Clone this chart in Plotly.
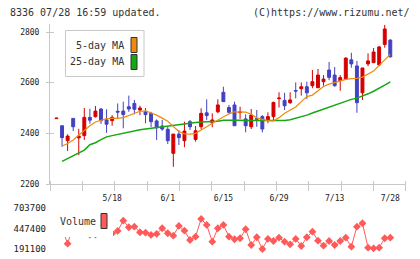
import plotly.graph_objects as go

W, H = 420, 259

dates = ["4/28", "4/30", "5/1", "5/7", "5/8", "5/11", "5/12", "5/13", "5/14", "5/15",
         "5/18", "5/19", "5/20", "5/21", "5/22", "5/25", "5/26", "5/27", "5/28", "5/29",
         "6/1", "6/2", "6/3", "6/4", "6/5", "6/8", "6/9", "6/10", "6/11", "6/12",
         "6/15", "6/16", "6/17", "6/18", "6/19", "6/22", "6/23", "6/24", "6/25", "6/26",
         "6/29", "6/30", "7/1", "7/2", "7/3", "7/6", "7/7", "7/8", "7/9", "7/10",
         "7/13", "7/14", "7/15", "7/16", "7/17", "7/21", "7/22", "7/23", "7/24", "7/27",
         "7/28"]

open_ = [2458, 2430, 2371, 2459, 2382, 2391, 2463, 2466, 2496, 2453,
         2450, 2487, 2488, 2505, 2518, 2492, 2485, 2479, 2449, 2429,
         2416, 2321, 2397, 2371, 2446, 2376, 2426, 2481, 2442, 2485,
         2562, 2502, 2512, 2482, 2457, 2426, 2458, 2466, 2453, 2466,
         2537, 2530, 2521, 2569, 2576, 2584, 2588, 2580, 2604, 2650,
         2630, 2608, 2614, 2690, 2666, 2560, 2674, 2679, 2670, 2751,
         2768]
high = [2460, 2430, 2396, 2459, 2418, 2500, 2497, 2508, 2500, 2495,
        2472, 2518, 2525, 2549, 2532, 2509, 2500, 2485, 2455, 2453,
        2426, 2397, 2413, 2446, 2453, 2429, 2499, 2534, 2479, 2534,
        2584, 2512, 2525, 2505, 2475, 2496, 2492, 2472, 2483, 2525,
        2562, 2560, 2562, 2601, 2601, 2604, 2650, 2654, 2630, 2682,
        2662, 2630, 2700, 2718, 2686, 2658, 2716, 2737, 2745, 2828,
        2772]
low = [2458, 2347, 2330, 2409, 2314, 2374, 2438, 2462, 2437, 2402,
       2430, 2460, 2420, 2485, 2475, 2472, 2440, 2425, 2374, 2410,
       2358, 2268, 2354, 2345, 2413, 2367, 2416, 2453, 2424, 2479,
       2525, 2478, 2430, 2457, 2404, 2417, 2426, 2404, 2440, 2453,
       2502, 2492, 2516, 2538, 2549, 2535, 2578, 2580, 2588, 2610,
       2584, 2568, 2612, 2659, 2481, 2532, 2665, 2679, 2665, 2738,
       2699]
close = [2460, 2383, 2389, 2426, 2389, 2463, 2452, 2488, 2450, 2436,
         2463, 2484, 2474, 2496, 2495, 2500, 2474, 2446, 2422, 2417,
         2371, 2397, 2383, 2409, 2426, 2410, 2479, 2470, 2453, 2512,
         2525, 2483, 2430, 2484, 2430, 2472, 2456, 2417, 2466, 2522,
         2539, 2509, 2532, 2567, 2584, 2560, 2604, 2630, 2614, 2621,
         2588, 2620, 2697, 2674, 2521, 2658, 2686, 2721, 2741, 2812,
         2702]

ma5 = [None, 2350, 2360, 2374, 2393, 2413, 2430, 2445, 2453, 2458,
       2459, 2459, 2462, 2470, 2480, 2487, 2489, 2482, 2472, 2460,
       2448, 2427, 2407, 2398, 2397, 2400, 2412, 2426, 2440, 2452,
       2463, 2477, 2485, 2484, 2484, 2475, 2461, 2455, 2450, 2449,
       2462, 2479, 2490, 2504, 2525, 2545, 2551, 2567, 2585, 2594,
       2600, 2608, 2613, 2616, 2617, 2622, 2634, 2646, 2668, 2690,
       2712]
ma25 = [None, 2289, 2300, 2309, 2320, 2334, 2355, 2363, 2375, 2386,
        2391, 2396, 2401, 2405, 2410, 2414, 2417, 2420, 2422, 2426,
        2430, 2433, 2436, 2439, 2441, 2443, 2445, 2446, 2446, 2448,
        2452, 2453, 2453, 2452, 2451, 2451, 2451, 2451, 2451, 2451,
        2451, 2451, 2454, 2459, 2464, 2472, 2480, 2488, 2497, 2505,
        2512, 2519, 2527, 2534, 2539, 2546, 2556, 2566, 2577, 2590,
        2603]

volume = [420000, 450000, 258000, 480000, 550000, 703700, 374000, 374000, 420000, 450000,
          386800, 418400, 548400, 465100, 472700, 401900, 396900, 367900, 380500, 452500,
          389300, 359000, 481500, 422200, 304700, 346400, 569900, 494100, 283300, 452500,
          494100, 346400, 313600, 326200, 439800, 241600, 338800, 191100, 317400, 292100,
          333800, 283300, 250400, 317400, 229000, 338800, 409500, 295900, 232800, 292100,
          241600, 292100, 333800, 220100, 472700, 515600, 207500, 200000, 207500, 326200,
          333800]

date_ticks = ["5/18", "6/1", "6/15", "6/29", "7/13", "7/28"]
price_ticks = [2200, 2400, 2600, 2800]
vol_ticks = [191100, 447400, 703700]
vol_tick_text = ["191100", "447400", "703700"]
grid_divisions = list(range(12))

RED = "#d40000"
BLUE = "#4242c2"
ORANGE = "#ef8a10"
GREEN = "#14a814"
VOLC = "#ff5a5a"
AXC = "#c8c8c8"
MONO = "DejaVu Sans Mono"


def px(x):
    return x / W


def py(y):
    return 1 - y / H


fig = go.Figure()
fig.add_trace(go.Scatter(x=dates, y=ma25, mode="lines", line=dict(color=GREEN, width=1.5),
                         xaxis="x", yaxis="y", hoverinfo="skip"))
fig.add_trace(go.Scatter(x=dates, y=ma5, mode="lines", line=dict(color=ORANGE, width=1.2),
                         xaxis="x", yaxis="y", hoverinfo="skip"))
fig.add_trace(go.Candlestick(
    x=dates, open=open_, high=high, low=low, close=close,
    increasing=dict(line=dict(color=RED, width=1), fillcolor=RED),
    decreasing=dict(line=dict(color=BLUE, width=1), fillcolor=BLUE),
    whiskerwidth=0, xaxis="x", yaxis="y"))
fig.add_trace(go.Scatter(x=dates, y=volume, mode="lines+markers",
                         line=dict(color=VOLC, width=1),
                         marker=dict(symbol="diamond", size=6, color=VOLC),
                         xaxis="x2", yaxis="y2", cliponaxis=False))
# empty traces so the tick-mark-only axes are created
fig.add_trace(go.Scatter(x=[], y=[], xaxis="x3", yaxis="y", hoverinfo="skip"))
fig.add_trace(go.Scatter(x=[], y=[], xaxis="x", yaxis="y3", hoverinfo="skip"))

xdom = [px(50), px(405.7)]
xr = [-1.168, 62.77]
ydom = [py(184), py(24)]
yr = [2200, 2831.6]

fig.update_layout(
    template="none",
    width=W, height=H, margin=dict(l=0, r=0, t=0, b=0, pad=0, autoexpand=False),
    paper_bgcolor="white", plot_bgcolor="white", showlegend=False,
    boxgap=0.25,
    xaxis=dict(domain=xdom, type="category", range=xr, anchor="y", automargin=False,
               tickmode="array", tickvals=date_ticks, ticktext=date_ticks,
               ticks="", showline=True, linecolor=AXC, linewidth=1,
               showgrid=False, zeroline=False, rangeslider=dict(visible=False),
               tickfont=dict(family=MONO, size=8, color="#222"), ticklabelstandoff=6),
    xaxis2=dict(domain=xdom, matches="x", anchor="y2", visible=False, automargin=False,
                rangeslider=dict(visible=False)),
    xaxis3=dict(domain=xdom, overlaying="x", anchor="free", position=py(179.5),
                range=[0, 11], automargin=False,
                tickmode="array", tickvals=grid_divisions, ticks="outside", ticklen=10, tickwidth=1,
                tickcolor=AXC, showticklabels=False, showline=False, showgrid=False,
                zeroline=False, rangeslider=dict(visible=False)),
    yaxis=dict(domain=ydom, range=yr, anchor="x", automargin=False,
               tickmode="array", tickvals=price_ticks, ticks="", showline=True,
               linecolor=AXC, linewidth=1, showgrid=False, zeroline=False,
               tickfont=dict(family=MONO, size=8, color="#222"), ticklabelstandoff=8),
    yaxis3=dict(domain=ydom, overlaying="y", range=yr, anchor="free", position=px(53.5),
                side="left", automargin=False,
                tickmode="array", tickvals=price_ticks, ticks="outside", ticklen=8, tickwidth=1,
                tickcolor=AXC, showticklabels=False, showline=False, showgrid=False,
                zeroline=False),
    yaxis2=dict(domain=[py(249), py(208.3)], range=[191100, 703700], anchor="x2",
                automargin=False,
                tickmode="array", tickvals=vol_ticks, ticktext=vol_tick_text,
                ticks="", showline=False, showgrid=False, zeroline=False,
                tickfont=dict(family=MONO, size=9, color="#222"), ticklabelstandoff=3),
)

shapes = [
    dict(type="rect", xref="paper", yref="paper", x0=px(65.5), x1=px(144), y0=py(76.5), y1=py(30.5),
         line=dict(color=AXC, width=1), fillcolor="white", layer="above"),
    dict(type="rect", xref="paper", yref="paper", x0=px(131), x1=px(137), y0=py(52.5), y1=py(37.5),
         line=dict(color="#333", width=1), fillcolor=ORANGE, layer="above"),
    dict(type="rect", xref="paper", yref="paper", x0=px(131), x1=px(137), y0=py(69.5), y1=py(54.5),
         line=dict(color="#333", width=1), fillcolor=GREEN, layer="above"),
    dict(type="rect", xref="paper", yref="paper", x0=px(52), x1=px(113), y0=py(237), y1=py(204),
         line=dict(width=0), fillcolor="white", layer="above"),
    dict(type="rect", xref="paper", yref="paper", x0=px(101), x1=px(107), y0=py(228.5), y1=py(213.5),
         line=dict(color="#333", width=1), fillcolor=VOLC, layer="above"),
]
fig.update_layout(shapes=shapes)

tfont = dict(family=MONO, size=10, color="#333")
annots = [
    dict(text="8336 07/28 16:59 updated.", x=px(8), y=py(12), xanchor="left", yanchor="middle"),
    dict(text="(C)https://www.rizumu.net/", x=px(412), y=py(12), xanchor="right", yanchor="middle"),
    dict(text="5-day MA", x=px(126), y=py(46), xanchor="right", yanchor="middle"),
    dict(text="25-day MA", x=px(126), y=py(62), xanchor="right", yanchor="middle"),
    dict(text="Volume", x=px(58), y=py(221.5), xanchor="left", yanchor="middle"),
]
for a in annots:
    a.update(xref="paper", yref="paper", showarrow=False, font=tfont)
fig.update_layout(annotations=annots)

fig.write_html("out.html")
